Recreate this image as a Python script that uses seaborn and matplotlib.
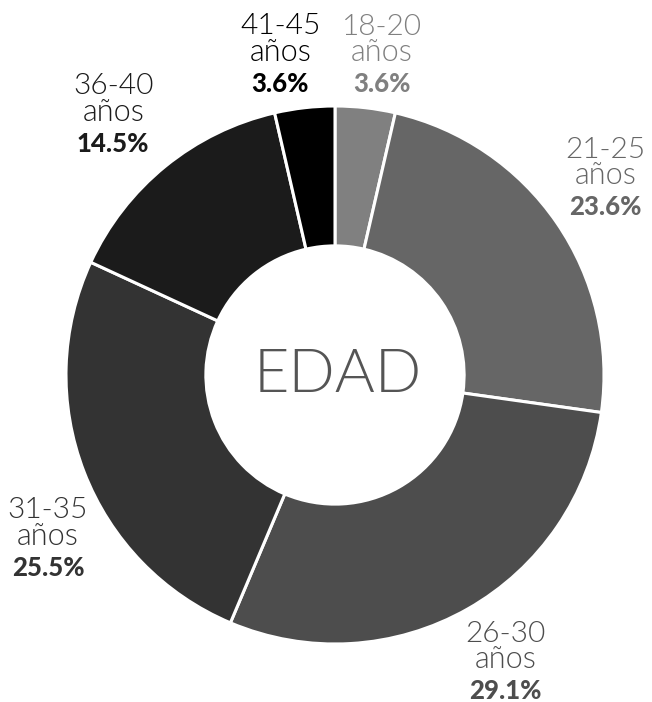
import matplotlib
matplotlib.use("Agg")
import matplotlib.pyplot as plt
import numpy as np
import seaborn as sns

# Age distribution (share of respondents, %)
age_groups = ["18-20", "21-25", "26-30", "31-35", "36-40", "41-45"]
shares = [3.6, 23.6, 29.1, 25.5, 14.5, 3.6]
unit_label = "años"
center_title = "EDAD"

# grey ramp from light (youngest) to black (oldest)
slice_colors = sns.color_palette(["#808080", "#666666", "#4d4d4d", "#333333", "#1b1b1b", "#000000"])

# label placement around the ring (degrees, radius in ring units)
label_angle = [81.7, 36.1, -59.2, -150.4, 130.4, 99.7]
label_radius = [1.204, 1.246, 1.240, 1.227, 1.272, 1.209]

sns.set_theme(style="white")
plt.rcParams["font.family"] = ["Lato", "DejaVu Sans"]

fig = plt.figure(figsize=(6.52, 7.02), dpi=100)
ax = fig.add_axes([66 / 652, 58 / 702, 538 / 652, 538 / 702])

ax.pie(
    shares,
    colors=slice_colors,
    startangle=90,
    counterclock=False,
    radius=1.0,
    wedgeprops=dict(width=0.52, edgecolor="white", linewidth=2.2),
)
ax.set_xlim(-1, 1)
ax.set_ylim(-1, 1)
ax.set_aspect("equal")
ax.axis("off")

px = 0.72  # points per pixel at 100 dpi
for name, val, col, ang, rad in zip(age_groups, shares, slice_colors, label_angle, label_radius):
    x = rad * np.cos(np.radians(ang))
    y = rad * np.sin(np.radians(ang))
    lines = [
        (name, -20, dict(fontsize=21.5, fontweight=300)),
        (unit_label, 6.5, dict(fontsize=22, fontweight=300)),
        (f"{val:.1f}%", 37.5, dict(fontsize=18.5, fontweight=900)),
    ]
    for txt, dy, style in lines:
        ax.annotate(
            txt, xy=(x, y), xytext=(0, -dy * px), textcoords="offset points",
            ha="center", va="baseline", color=col, annotation_clip=False, **style,
        )

ax.annotate(center_title, xy=(0, 0), xytext=(3 * px, -1 * px), textcoords="offset points",
            ha="center", va="center", fontsize=44, fontweight=300, color="#555555")

fig.savefig("out.png", dpi=100)
